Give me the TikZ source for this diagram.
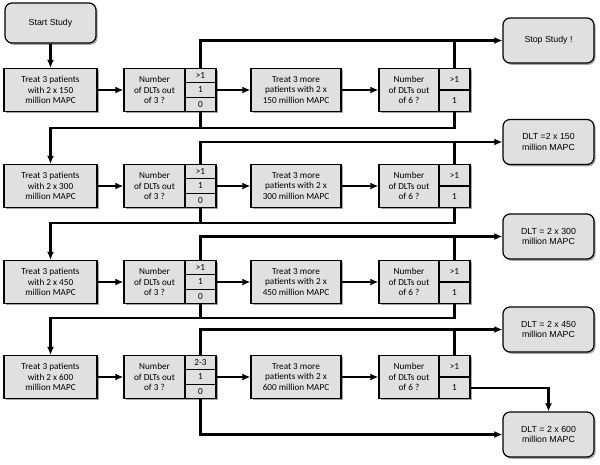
\documentclass[tikz,border=0pt]{standalone}
\usepackage{fontspec}
\setmainfont{Carlito}
\newfontfamily\arialf{Liberation Sans}
\usetikzlibrary{arrows.meta,shadows,calc}
\definecolor{boxgray}{RGB}{224,224,224}
\tikzset{
  box/.style={draw, line width=1.2pt, fill=boxgray, inner sep=0pt, align=center,
    font=\fontsize{9.2}{10.5}\selectfont,
    drop shadow={shadow xshift=1.6pt, shadow yshift=-1.8pt, fill=black, opacity=0.35}},
  treat/.style={box, minimum width=93pt, minimum height=43pt},
  more/.style={box, minimum width=90pt, minimum height=43pt},
  num/.style={box, minimum width=61pt, minimum height=43pt},
  sm3/.style={box, minimum width=31pt, minimum height=14.33pt},
  sm6/.style={box, minimum width=31pt, minimum height=21.5pt},
  rbox/.style={box, rounded corners=7pt, minimum width=91pt, minimum height=45pt,
    font=\arialf\fontsize{8.8}{10.5}\selectfont},
  conn/.style={line width=2.3pt, line join=miter},
  arr/.style={conn, -{Latex[length=8pt,width=7pt]}}
}
\begin{document}
\begin{tikzpicture}[x=1pt,y=-1pt]
\useasboundingbox (0,0) rectangle (600,464);
\node[rbox, minimum height=40pt] (start) at (50.5,23) {Start Study};
\node[rbox] (r1) at (548.5,40.5) {Stop Study !};
\node[rbox] (r2) at (548.5,142) {DLT =2 x 150\\million MAPC};
\node[rbox] (r3) at (548.5,236.5) {DLT = 2 x 300\\million MAPC};
\node[rbox] (r4) at (548.5,329.5) {DLT = 2 x 450\\million MAPC};
\node[rbox] (r5) at (548.5,434.5) {DLT = 2 x 600\\million MAPC};
\foreach \i/\c/\d/\g in {1/90/150/>1, 2/186/300/>1, 3/282/450/>1, 4/377/600/2-3} {
  \node[treat] (t\i) at (50.5,\c) {Treat 3 patients\\with 2 x \d\\million MAPC};
  \node[num] (n\i) at (154.5,\c) {Number\\of DLTs out\\of 3 ?};
  \node[sm3] (g\i) at (200.5,\c-14.33) {\g};
  \node[sm3] (o\i) at (200.5,\c) {1};
  \node[sm3] (z\i) at (200.5,\c+14.33) {0};
  \node[more] (m\i) at (296,\c) {Treat 3 more\\patients with 2 x\\\d{} million MAPC};
  \node[num, minimum width=60pt] (s\i) at (409,\c) {Number\\of DLTs out\\of 6 ?};
  \node[sm6] (h\i) at (454.5,\c-10.75) {>1};
  \node[sm6] (q\i) at (454.5,\c+10.75) {1};
  \draw[arr] (t\i) -- (n\i);
  \draw[arr] (o\i.east) -- (m\i);
  \draw[arr] (m\i) -- (s\i);
  \draw[arr] (g\i.north) |- (r\i.west);
  \draw[conn] (h\i.north) -- (h\i.north |- r\i.west);
}
\draw[arr] (start) -- (t1);
\foreach \i/\j/\y in {1/2/128, 2/3/223, 3/4/318} {
  \coordinate (ret\i) at (50.5,\y);
  \draw[arr] (z\i.south) |- (ret\i) -- (t\j.north);
  \draw[conn] (q\i.south) |- (z\i.south |- ret\i);
}
\draw[arr] (z4.south) |- (r5.west);
\draw[arr] (q4.east) -| (r5.north);
\end{tikzpicture}
\end{document}
